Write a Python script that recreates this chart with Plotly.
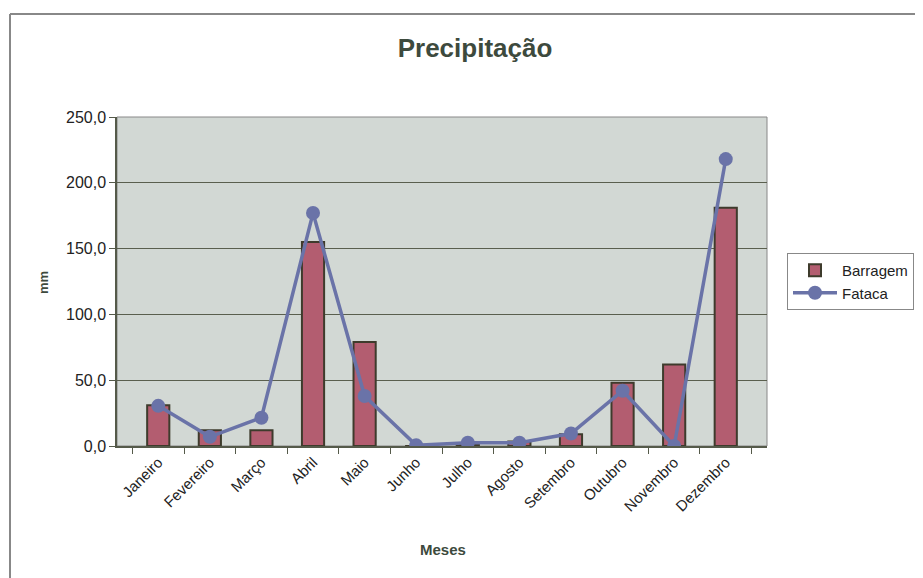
import plotly.graph_objects as go

meses = ["Janeiro", "Fevereiro", "Março", "Abril", "Maio", "Junho", "Julho",
         "Agosto", "Setembro", "Outubro", "Novembro", "Dezembro"]
barragem = [31.0, 12.0, 12.0, 155.0, 79.0, 0.0, 1.0, 3.5, 9.0, 48.0, 62.0, 181.0]
fataca = [30.5, 7.0, 21.5, 177.0, 38.0, 0.5, 2.5, 2.5, 9.5, 42.0, 0.0, 218.0]
y_ticks = [0, 50, 100, 150, 200, 250]

font_family = "Liberation Sans, Arial, sans-serif"
text_col = "#3d4a3d"

# plot area on screen: x 117..767, y 117..446 (page has 8px body offset)
PW, PH = 650.0, 329.0
X0, Y1 = 117.0, 446.0


def px(x):
    return (x - X0) / PW


def py(y):
    return (Y1 - y) / PH


fig = go.Figure()
fig.add_trace(go.Bar(
    x=meses, y=barragem, name="Barragem",
    marker=dict(color="#b35d70", line=dict(color="#3e3b2c", width=2)),
    width=0.43,
))
fig.add_trace(go.Scatter(
    x=meses, y=fataca, name="Fataca", mode="lines+markers",
    line=dict(color="#6a73a8", width=3.5),
    marker=dict(color="#6a73a8", size=14),
))

fig.update_layout(
    width=923, height=578,
    paper_bgcolor="white",
    plot_bgcolor="#d2d8d4",
    margin=dict(l=109, r=164, t=109, b=140),
    separators=",.",
    font=dict(family=font_family, color="#222222", size=12),
    title=dict(text="<b>Precipitação</b>", x=467/923, xanchor="center",
               y=1 - 40/578, yanchor="middle",
               font=dict(size=26, color=text_col)),
    showlegend=True,
    legend=dict(x=px(787), y=py(253), xanchor="left", yanchor="top",
                bordercolor="#888888", borderwidth=1, bgcolor="white",
                font=dict(size=15, color="#222222"),
                tracegroupgap=0, itemwidth=44),
    shapes=[
        dict(type="line", xref="paper", yref="paper",
             x0=px(10), x1=px(930), y0=py(14), y1=py(14),
             line=dict(color="#888888", width=2)),
        dict(type="line", xref="paper", yref="paper",
             x0=px(10), x1=px(10), y0=py(14), y1=py(590),
             line=dict(color="#888888", width=2)),
        dict(type="rect", xref="paper", yref="paper", x0=0, x1=1, y0=0, y1=1,
             line=dict(color="#888888", width=1), layer="below"),
    ],
    annotations=[
        dict(text="<b>Meses</b>", xref="paper", yref="paper",
             x=px(443), y=py(549), xanchor="center", yanchor="middle",
             showarrow=False, font=dict(size=15, color=text_col)),
        dict(text="<b>mm</b>", xref="paper", yref="paper",
             x=px(43), y=py(283), xanchor="center", yanchor="middle",
             textangle=-90, showarrow=False, font=dict(size=13, color=text_col)),
    ],
)

fig.update_xaxes(
    type="category",
    tickangle=-45,
    ticks="outside", tickson="boundaries", ticklen=6, tickcolor="#555a4a",
    showline=True, linecolor="#555a4a", linewidth=1.5,
    tickfont=dict(size=15, color="#222222"),
    showgrid=False,
)
fig.update_yaxes(
    range=[0, 250],
    tickvals=y_ticks,
    tickformat=".1f",
    ticks="outside", ticklen=6, tickcolor="#555a4a",
    showline=True, linecolor="#555a4a", linewidth=1.5,
    gridcolor="#5a5f4e", gridwidth=1,
    tickfont=dict(size=16, color="#222222"),
    zeroline=False,
)

fig.write_html("out.html")
